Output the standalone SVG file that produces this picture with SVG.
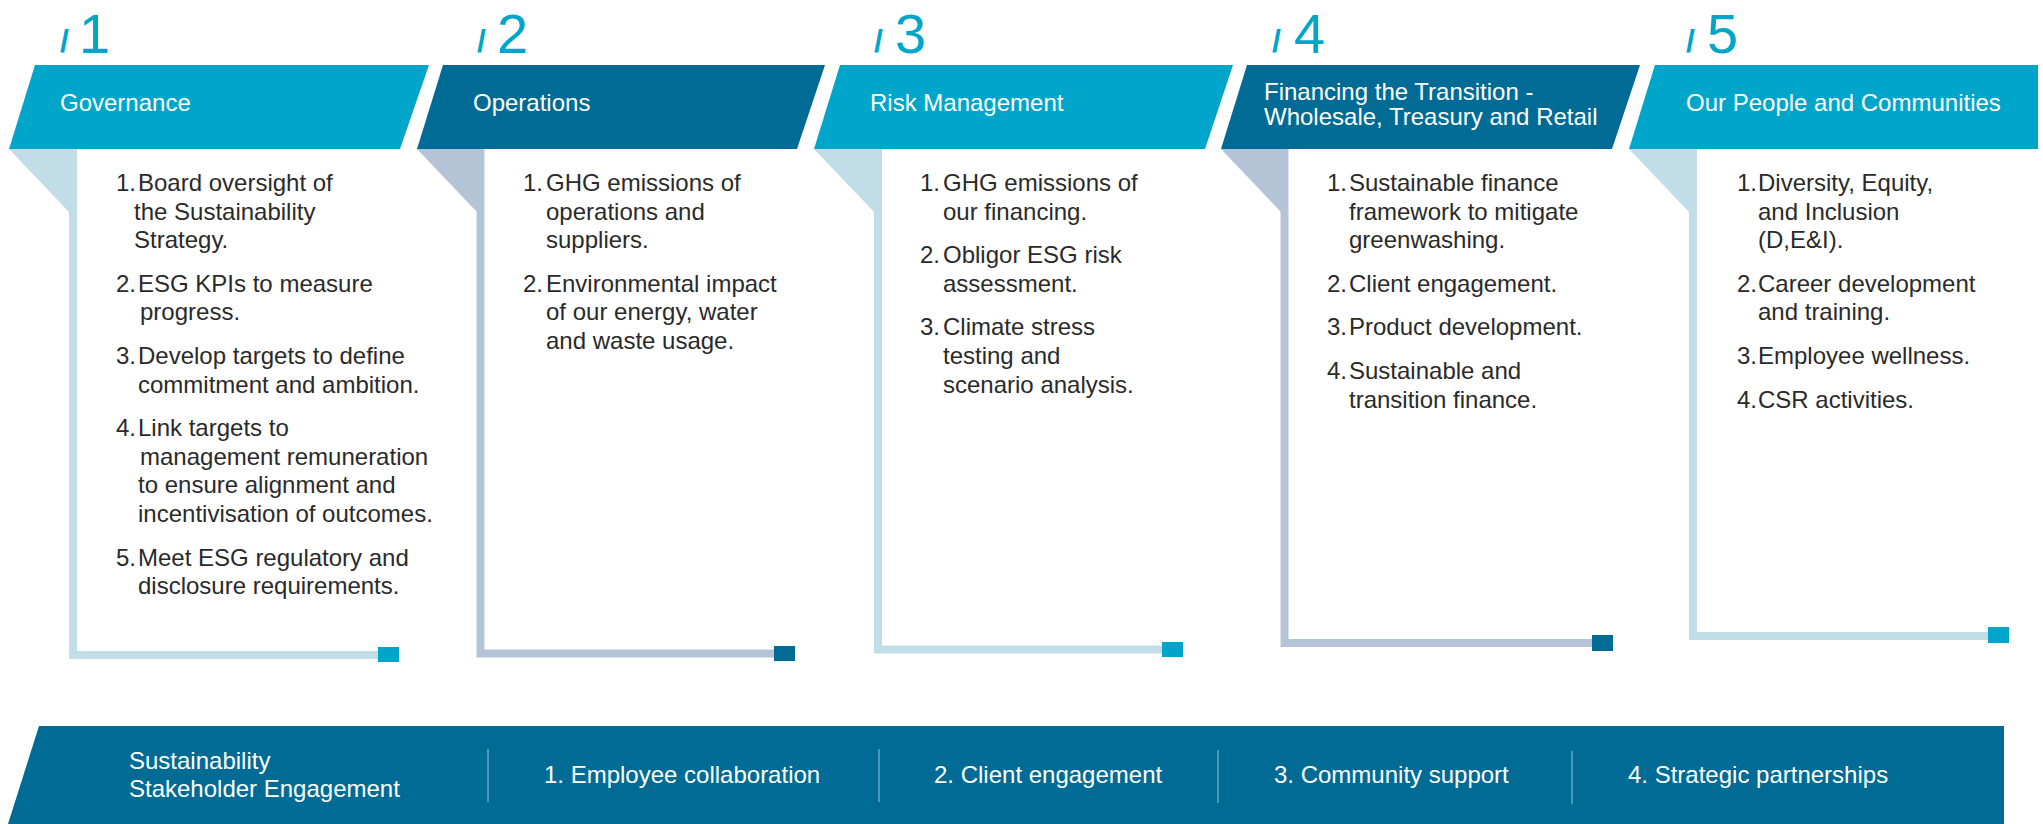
<svg xmlns="http://www.w3.org/2000/svg" width="2043" height="824" viewBox="0 0 2043 824">
  <style>
    .bn-cyan{fill:#00a6c9}
    .bn-dark{fill:#006b94}
    .fold-cyan{fill:#c1dde8}
    .fold-dark{fill:#b4c3d5}
    .rail-cyan{fill:none;stroke:#c1dde8;stroke-width:8}
    .rail-dark{fill:none;stroke:#b4c3d5;stroke-width:8}
    .cap-cyan{fill:#00a6c9}
    .cap-dark{fill:#006b94}
    .num{font-family:"Liberation Sans",Arial,sans-serif;font-size:56px;fill:#00a6c9}
    .slash{font-family:"Liberation Sans",Arial,sans-serif;font-size:32px;font-weight:bold;fill:#00a6c9}
    .head{font-family:"Liberation Sans",Arial,sans-serif;font-size:24px;fill:#ffffff}
    .body{font-family:"Liberation Sans",Arial,sans-serif;font-size:24px;fill:#2a2a2a}
    .foot{font-family:"Liberation Sans",Arial,sans-serif;font-size:24px;fill:#ffffff}
    .div{stroke:#5fa9c6;stroke-width:1.5}
  </style>

  <!-- rails: L-shaped guides ending in a square cap -->
  <g id="connectors">
    <path class="rail-cyan" d="M73,149 V655 H378"/>
    <rect class="cap-cyan" x="378" y="647" width="21" height="15"/>
    <path class="rail-dark" d="M480.5,149 V653.5 H774"/>
    <rect class="cap-dark" x="774" y="646" width="21" height="15"/>
    <path class="rail-cyan" d="M878,149 V649.5 H1162"/>
    <rect class="cap-cyan" x="1162" y="642" width="21" height="15"/>
    <path class="rail-dark" d="M1284.5,149 V643 H1592"/>
    <rect class="cap-dark" x="1592" y="635" width="21" height="16"/>
    <path class="rail-cyan" d="M1693,149 V636 H1988"/>
    <rect class="cap-cyan" x="1988" y="627" width="21" height="16"/>
  </g>

  <!-- pillar 1 -->
  <g id="pillar-1">
    <text class="slash" x="60" y="52">/</text>
    <text class="num" x="79" y="53">1</text>
    <polygon class="bn-cyan" points="35,65 429,65 400,149 9,149"/>
    <polygon class="fold-cyan" points="9,149 77,149 77,212 69,212"/>
    <text class="head" x="60" y="111">Governance</text>
    <text class="body">
      <tspan x="116" y="191">1.</tspan><tspan x="138" y="191">Board oversight of</tspan>
      <tspan x="134" y="219.6">the Sustainability</tspan>
      <tspan x="134" y="248.2">Strategy.</tspan>
      <tspan x="116" y="291.8">2.</tspan><tspan x="138" y="291.8">ESG KPIs to measure</tspan>
      <tspan x="140" y="320.4">progress.</tspan>
      <tspan x="116" y="364">3.</tspan><tspan x="138" y="364">Develop targets to define</tspan>
      <tspan x="138" y="392.6">commitment and ambition.</tspan>
      <tspan x="116" y="436.2">4.</tspan><tspan x="138" y="436.2">Link targets to</tspan>
      <tspan x="140" y="464.8">management remuneration</tspan>
      <tspan x="138" y="493.4">to ensure alignment and</tspan>
      <tspan x="138" y="522">incentivisation of outcomes.</tspan>
      <tspan x="116" y="565.6">5.</tspan><tspan x="138" y="565.6">Meet ESG regulatory and</tspan>
      <tspan x="138" y="594.2">disclosure requirements.</tspan>
    </text>
  </g>

  <!-- pillar 2 -->
  <g id="pillar-2">
    <text class="slash" x="477" y="52">/</text>
    <text class="num" x="497" y="53">2</text>
    <polygon class="bn-dark" points="443,65 825,65 797,149 417,149"/>
    <polygon class="fold-dark" points="417,149 484,149 484,212 477,212"/>
    <text class="head" x="473" y="111">Operations</text>
    <text class="body">
      <tspan x="523" y="191">1.</tspan><tspan x="546" y="191">GHG emissions of</tspan>
      <tspan x="546" y="219.6">operations and</tspan>
      <tspan x="546" y="248.2">suppliers.</tspan>
      <tspan x="523" y="291.8">2.</tspan><tspan x="546" y="291.8">Environmental impact</tspan>
      <tspan x="546" y="320.4">of our energy, water</tspan>
      <tspan x="546" y="349">and waste usage.</tspan>
    </text>
  </g>

  <!-- pillar 3 -->
  <g id="pillar-3">
    <text class="slash" x="874" y="52">/</text>
    <text class="num" x="895" y="53">3</text>
    <polygon class="bn-cyan" points="840,65 1233,65 1205,149 814,149"/>
    <polygon class="fold-cyan" points="814,149 882,149 882,212 874,212"/>
    <text class="head" x="870" y="111">Risk Management</text>
    <text class="body">
      <tspan x="920" y="191">1.</tspan><tspan x="943" y="191">GHG emissions of</tspan>
      <tspan x="943" y="219.6">our financing.</tspan>
      <tspan x="920" y="263.2">2.</tspan><tspan x="943" y="263.2">Obligor ESG risk</tspan>
      <tspan x="943" y="291.8">assessment.</tspan>
      <tspan x="920" y="335.4">3.</tspan><tspan x="943" y="335.4">Climate stress</tspan>
      <tspan x="943" y="364">testing and</tspan>
      <tspan x="943" y="392.6">scenario analysis.</tspan>
    </text>
  </g>

  <!-- pillar 4 -->
  <g id="pillar-4">
    <text class="slash" x="1272" y="52">/</text>
    <text class="num" x="1294" y="53">4</text>
    <polygon class="bn-dark" points="1247,65 1640,65 1612,149 1221,149"/>
    <polygon class="fold-dark" points="1221,149 1288,149 1288,212 1281,212"/>
    <text class="head">
      <tspan x="1264" y="100">Financing the Transition -</tspan>
      <tspan x="1264" y="125">Wholesale, Treasury and Retail</tspan>
    </text>
    <text class="body">
      <tspan x="1327" y="191">1.</tspan><tspan x="1349" y="191">Sustainable finance</tspan>
      <tspan x="1349" y="219.6">framework to mitigate</tspan>
      <tspan x="1349" y="248.2">greenwashing.</tspan>
      <tspan x="1327" y="291.8">2.</tspan><tspan x="1349" y="291.8">Client engagement.</tspan>
      <tspan x="1327" y="335.4">3.</tspan><tspan x="1349" y="335.4">Product development.</tspan>
      <tspan x="1327" y="379">4.</tspan><tspan x="1349" y="379">Sustainable and</tspan>
      <tspan x="1349" y="407.6">transition finance.</tspan>
    </text>
  </g>

  <!-- pillar 5 -->
  <g id="pillar-5">
    <text class="slash" x="1686" y="52">/</text>
    <text class="num" x="1707" y="53">5</text>
    <polygon class="bn-cyan" points="1655,65 2038,65 2038,149 1629,149"/>
    <polygon class="fold-cyan" points="1629,149 1697,149 1697,212 1689,212"/>
    <text class="head" x="1686" y="111">Our People and Communities</text>
    <text class="body">
      <tspan x="1737" y="191">1.</tspan><tspan x="1758" y="191">Diversity, Equity,</tspan>
      <tspan x="1758" y="219.6">and Inclusion</tspan>
      <tspan x="1758" y="248.2">(D,E&amp;I).</tspan>
      <tspan x="1737" y="291.8">2.</tspan><tspan x="1758" y="291.8">Career development</tspan>
      <tspan x="1758" y="320.4">and training.</tspan>
      <tspan x="1737" y="364">3.</tspan><tspan x="1758" y="364">Employee wellness.</tspan>
      <tspan x="1737" y="407.6">4.</tspan><tspan x="1758" y="407.6">CSR activities.</tspan>
    </text>
  </g>

  <!-- stakeholder engagement band -->
  <g id="engagement">
    <polygon class="bn-dark" points="39,726 2004,726 2004,824 8,824"/>
    <text class="foot">
      <tspan x="129" y="769">Sustainability</tspan>
      <tspan x="129" y="797">Stakeholder Engagement</tspan>
    </text>
    <line class="div" x1="488" y1="749" x2="488" y2="802"/>
    <text class="foot" x="544" y="783">1. Employee collaboration</text>
    <line class="div" x1="879" y1="749" x2="879" y2="802"/>
    <text class="foot" x="934" y="783">2. Client engagement</text>
    <line class="div" x1="1218" y1="750" x2="1218" y2="803"/>
    <text class="foot" x="1274" y="783">3. Community support</text>
    <line class="div" x1="1572" y1="751" x2="1572" y2="804"/>
    <text class="foot" x="1628" y="783">4. Strategic partnerships</text>
  </g>
</svg>
